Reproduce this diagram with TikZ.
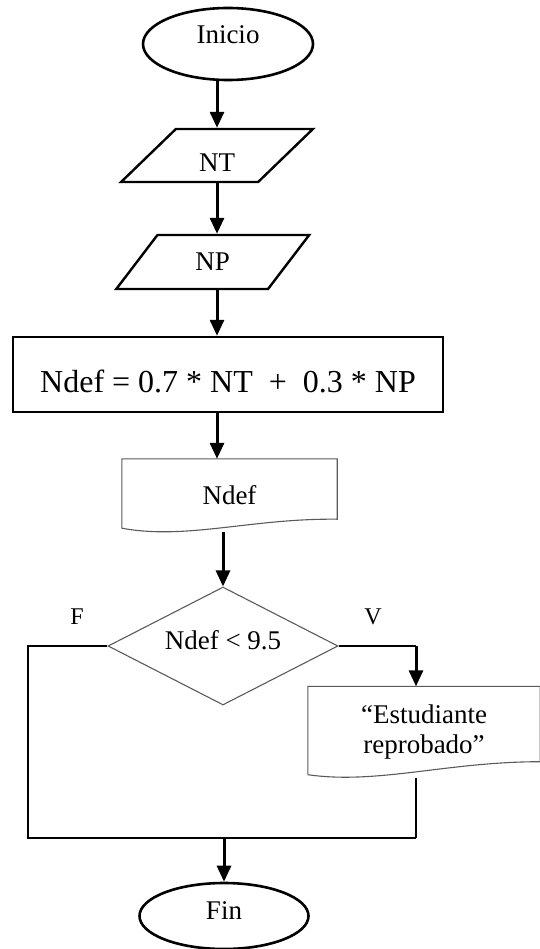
\documentclass[tikz,border=0pt]{standalone}
\usepackage{fontspec}
\setmainfont{Liberation Serif}
\usetikzlibrary{arrows.meta,positioning,shapes.geometric,calc}
\definecolor{shapegray}{HTML}{5a5a5a}

\begin{document}
\begin{tikzpicture}[
    x=1pt,y=-1pt,
    font=\fontsize{27}{30}\selectfont,
    terminal/.style={draw,ellipse,line width=2.6pt,inner sep=0pt},
    inputbox/.style={draw,trapezium,trapezium left angle=54,trapezium right angle=126,trapezium stretches=true,line width=2.4pt,inner sep=0pt},
    procbox/.style={draw,rectangle,line width=2.4pt,inner sep=0pt,font=\fontsize{32}{35}\selectfont},
    docbox/.style={rectangle,inner sep=0pt,align=center},
    docline/.style={shapegray,line width=1.1pt},
    decbox/.style={draw=shapegray,diamond,aspect=1.95,line width=1.1pt,inner sep=0pt},
    lbl/.style={font=\fontsize{24}{27}\selectfont},
    arr/.style={-{Triangle[length=16pt,width=14pt]},line width=3pt},
    thinline/.style={line width=1.4pt}
  ]
    \useasboundingbox (0,0) rectangle (539,949);

    % main column
    \node[terminal,minimum width=170pt,minimum height=72pt,text height=18pt,text depth=19pt] (inicio) at (228,44) {Inicio};
    \node[inputbox,minimum width=192pt,minimum height=53pt,text height=33pt,text depth=0pt] (nt) at (217,155.5) {NT};
    \node[inputbox,minimum width=193pt,minimum height=54pt] (np) at (212.75,262) {NP};
    \node[procbox,minimum width=430pt,minimum height=75pt,text height=36pt,text depth=0pt] (calc) at (228,374.5) {Ndef = 0.7 * NT~~+~~0.3 * NP};
    \node[docbox,minimum width=215pt,minimum height=73pt] (ndef) at (229.5,495.5) {Ndef};
    \node[decbox,minimum width=230pt,minimum height=118pt,text height=18pt,text depth=11pt] (dec) at (223,646) {Ndef < 9.5};
    \node[docbox,minimum width=232pt,minimum height=91pt] (estud) at (424,732) {“Estudiante\\reprobado”};
    \node[terminal,minimum width=169pt,minimum height=66pt,text height=18pt,text depth=12pt] (fin) at (224,916) {Fin};

    % branch labels
    \node[lbl] (flabel) at (77,617) {F};
    \node[lbl] (vlabel) at (373,617) {V};

    % document outlines
    \draw[docline] ($(ndef.south west)+(0,-4)$) -- (ndef.north west) -- (ndef.north east) -- ($(ndef.south east)+(0,-13)$)
      .. controls ($(ndef.south west)!.6!(ndef.south east)+(0,-14)$) and ($(ndef.south west)!.3!(ndef.south east)+(0,8)$) .. ($(ndef.south west)+(0,-4)$);
    \draw[docline] ($(estud.south west)+(0,-3)$) -- (estud.north west) -- (estud.north east) -- ($(estud.south east)+(0,-16)$)
      .. controls ($(estud.south west)!.6!(estud.south east)+(0,-16)$) and ($(estud.south west)!.3!(estud.south east)+(0,7)$) .. ($(estud.south west)+(0,-3)$);

    % turning points
    \coordinate (fcorner) at (28,838);
    \coordinate (vcorner) at (416,838);
    \coordinate (merge) at (224,838);

    % arrows
    \draw[arr] (nt.north |- inicio.south) -- (nt.north);
    \draw[arr] (nt.south) -- (nt.south |- np.north);
    \draw[arr] (nt.south |- np.south) -- (nt.south |- calc.north);
    \draw[arr] (nt.south |- calc.south) -- (nt.south |- ndef.north);
    \draw[arr] (dec.north |- ndef.south) -- (dec.north);

    % branches
    \draw[thinline] (dec.east) -- (dec.east -| vcorner);
    \draw[arr] (dec.east -| vcorner) -- (estud.north -| vcorner);
    \draw[thinline] (dec.west) -| (fcorner) -- (vcorner);
    \draw[thinline] (estud.south -| vcorner) -- (vcorner);
    \draw[arr] (merge) -- (fin.north);
  \end{tikzpicture}
\end{document}
